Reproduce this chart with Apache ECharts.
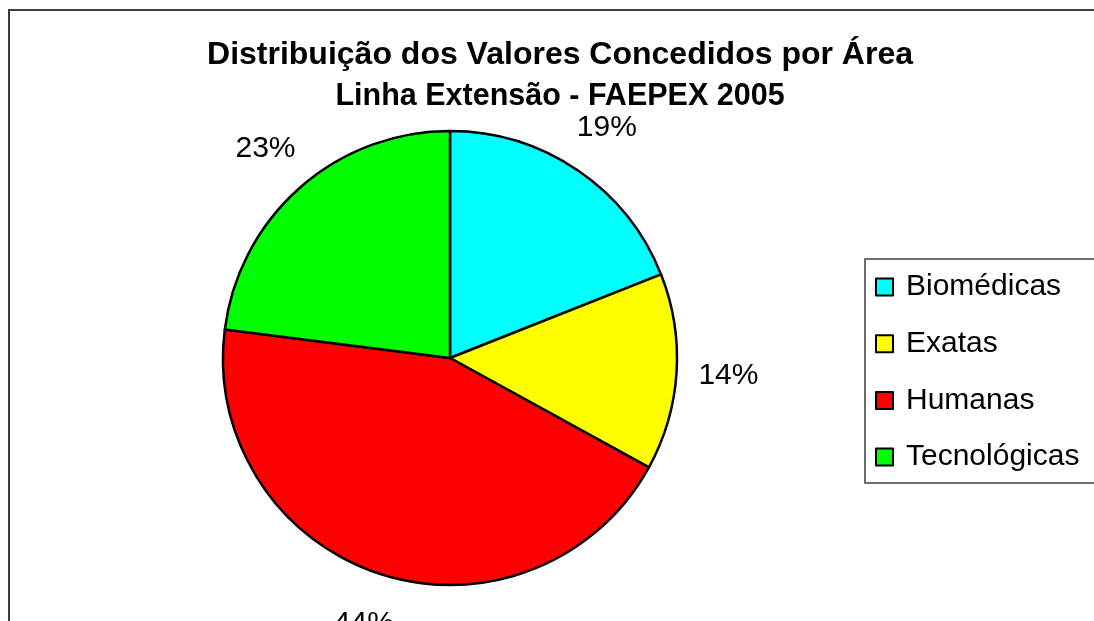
<!DOCTYPE html>
<html>
<head>
<meta charset="utf-8">
<script src="https://cdn.jsdelivr.net/npm/echarts@6/dist/echarts.min.js"></script>
<style>
    html, body { margin: 0; padding: 0; background: #fff; overflow: hidden; width: 1094px; height: 621px; }
    #frame { position: absolute; left: 8px; top: 9px; width: 1200px; height: 700px; border: 2px solid #3c3c3c; }
    #chartDiv { position: absolute; left: 0; top: 0; width: 1120px; height: 621px; }
</style>
</head>
<body>
<div id="frame"></div>
<div id="chartDiv"></div>
<script>
// dados do gráfico
let areas = ["Biomédicas", "Exatas", "Humanas", "Tecnológicas"];
let valores = [19, 14, 44, 23];
let cores = ["#00ffff", "#ffff00", "#ff0000", "#00ff00"];

let chart = echarts.init(document.getElementById("chartDiv"));

let fatias = areas.map(function (nome, i) {
    return { name: nome, value: valores[i], itemStyle: { color: cores[i] } };
});

chart.setOption({
    backgroundColor: "transparent",
    animation: false,
    title: {
        text: "{a|Distribuição dos Valores Concedidos por Área}\n{b|Linha Extensão - FAEPEX 2005}",
        left: "center",
        top: 29,
        textStyle: {
            rich: {
                a: {
                    fontFamily: "Liberation Sans",
                    fontWeight: "bold",
                    fontSize: 32,
                    lineHeight: 42,
                    color: "#000",
                    align: "center",
                },
                b: {
                    fontFamily: "Liberation Sans",
                    fontWeight: "bold",
                    fontSize: 30.5,
                    lineHeight: 42,
                    color: "#000",
                    align: "center",
                },
            },
        },
    },
    legend: {
        orient: "vertical",
        left: 865,
        top: 259,
        data: areas,
        icon: "rect",
        itemWidth: 17,
        itemHeight: 17,
        itemGap: 22.7,
        padding: [11, 30, 9, 10],
        borderColor: "#3c3c3c",
        borderWidth: 1.5,
        selectedMode: false,
        itemStyle: { borderColor: "#000", borderWidth: 2 },
        textStyle: {
            fontFamily: "Liberation Sans",
            fontSize: 30,
            lineHeight: 34,
            padding: [0, 0, 0, 8],
            color: "#000",
        },
    },
    series: [
        {
            name: "Área",
            type: "pie",
            center: [450, 358],
            radius: 227,
            startAngle: 90,
            clockwise: true,
            silent: true,
            label: { show: false },
            labelLine: { show: false },
            emphasis: { disabled: true },
            itemStyle: { borderColor: "#000", borderWidth: 2.5 },
            data: fatias,
        },
        {
            // anel invisível só para posicionar os rótulos de %
            name: "rotulos",
            type: "pie",
            center: [450, 358],
            radius: [258, 294],
            startAngle: 90,
            clockwise: true,
            silent: true,
            percentPrecision: 0,
            emphasis: { disabled: true },
            itemStyle: { color: "transparent", borderWidth: 0 },
            label: {
                show: true,
                position: "inside",
                formatter: "{d}%",
                fontFamily: "Liberation Sans",
                fontSize: 30,
                color: "#000",
            },
            labelLine: { show: false },
            data: areas.map(function (nome, i) {
                return { name: nome, value: valores[i] };
            }),
        },
    ],
});
</script>
</body>
</html>
